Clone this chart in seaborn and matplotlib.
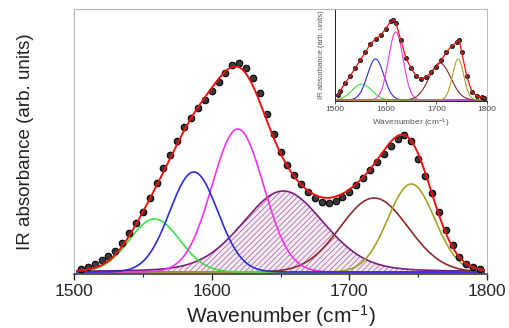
import numpy as np
import pandas as pd
import seaborn as sns
import matplotlib.pyplot as plt
from matplotlib.ticker import MultipleLocator

wn = [1505, 1510, 1515, 1520, 1525, 1530, 1535, 1540, 1545, 1550,
      1555, 1560, 1565, 1570, 1575, 1580, 1585, 1590, 1595, 1600,
      1605, 1610, 1615, 1620, 1625, 1630, 1635, 1640, 1645, 1650,
      1655, 1660, 1665, 1670, 1675, 1680, 1685, 1690, 1695, 1700,
      1705, 1710, 1715, 1720, 1725, 1730, 1735, 1740, 1745, 1750,
      1755, 1760, 1765, 1770, 1775, 1780, 1785, 1790, 1795]
absorb = [3, 5, 8, 12, 16, 21, 29, 39, 49, 60,
          74, 89, 104, 117, 131, 145, 154, 164, 172, 181,
          190, 199, 207, 209, 204, 194, 179, 158, 138, 120,
          107, 97, 88, 80, 74, 70, 69, 71, 75, 80,
          87, 94, 102, 110, 118, 126, 133, 137, 131, 113,
          96, 79, 60, 42, 27, 15, 8, 5, 3]

# fitted bands (main panel): centre, height, fwhm, lorentzian fraction
band_names = ['green', 'blue', 'magenta', 'purple', 'brown', 'olive']
band_center = [1558.5, 1587, 1619, 1652, 1718, 1745]
band_height = [53, 100, 143, 81, 74, 88]
band_fwhm = [43, 41, 44, 70, 58, 40]
band_eta = [0.0, 0.0, 0.0, 0.2, 0.0, 0.0]

# inset spectrum
wn_in = [1505, 1510, 1520, 1530, 1540, 1550, 1560, 1570, 1580, 1590,
         1600, 1610, 1615, 1620, 1630, 1640, 1650, 1660, 1670, 1680,
         1690, 1700, 1710, 1720, 1730, 1740, 1745, 1750, 1760, 1770,
         1780, 1790, 1795]
absorb_in = [5, 9, 17, 24, 32, 40, 48, 56, 61, 65,
             71, 79, 80, 77, 60, 42, 32, 24, 21, 23,
             28, 33, 40, 48, 54, 58, 60, 48, 24, 8,
             4, 3, 2]
inset_names = ['green', 'blue', 'magenta', 'brown', 'olive']
inset_center = [1553, 1580, 1620, 1707, 1743]
inset_height = [16, 41, 68, 37, 41]
inset_fwhm = [45, 38, 34, 50, 26]

colors = {'green': '#3ee03e', 'blue': '#2b2bd8', 'magenta': '#ee33ee',
          'purple': '#7a1f7a', 'brown': '#8a2a2a', 'olive': '#a8a020'}


def band(x, c, h, f, eta=0.0):
    u = 4 * (x - c) ** 2 / f ** 2
    return h * ((1 - eta) * np.exp(-np.log(2) * u) + eta / (1 + u))


sns.set_style('ticks')
plt.rcParams['font.family'] = ['Liberation Sans', 'DejaVu Sans']
plt.rcParams['mathtext.fontset'] = 'custom'
plt.rcParams['mathtext.rm'] = 'Liberation Sans'
plt.rcParams['mathtext.default'] = 'regular'
plt.rcParams['hatch.linewidth'] = 0.6
plt.rcParams['hatch.color'] = '#b56aa8'

fig = plt.figure(figsize=(5.09, 3.28), dpi=100)
ax = fig.add_axes([74 / 509, 1 - 274 / 328, 413 / 509, 265 / 328])

x = np.arange(1502, 1798.5, 0.5)
comps = {}
for n, c, h, f, e in zip(band_names, band_center, band_height, band_fwhm, band_eta):
    comps[n] = band(x, c, h, f, e)

# hatched broad band
ax.fill_between(x, 0, comps['purple'], facecolor='#f6eef6', edgecolor='#b56aa8',
                hatch='//////', linewidth=0)
for n in ['purple', 'brown', 'olive', 'green', 'magenta', 'blue']:
    sns.lineplot(x=x, y=comps[n], color=colors[n], lw=1.2, ax=ax)

df = pd.DataFrame({'wn': wn, 'abs': absorb})
sns.scatterplot(data=df, x='wn', y='abs', s=22, color='#3a3a3a', edgecolor='black',
                linewidth=0.8, ax=ax, zorder=3)
fit = sum(comps.values())
sns.lineplot(x=x, y=fit, color='#ee1111', lw=1.4, ax=ax, zorder=4)

ax.set_xlim(1500, 1800)
ax.set_ylim(-2, 263)
ax.set_yticks([])
ax.xaxis.set_major_locator(MultipleLocator(100))
ax.xaxis.set_minor_locator(MultipleLocator(50))
ax.tick_params(axis='x', which='major', length=4, width=1, labelsize=12.5, pad=3)
ax.tick_params(axis='x', which='minor', length=2.5, width=0.8)
for s in ['top', 'right', 'left']:
    ax.spines[s].set_color('#b8b8b8')
    ax.spines[s].set_linewidth(0.8)
ax.spines['bottom'].set_linewidth(1.1)
ax.set_xlabel('Wavenumber (cm$^{-1}$)', fontsize=15, labelpad=3, color='#222222')
ax.set_ylabel('IR absorbance (arb. units)', fontsize=13.5, labelpad=29, color='#222222')

# inset
axi = fig.add_axes([335 / 509, 1 - 101 / 328, 152 / 509, 92 / 328])
xi = np.arange(1500, 1800.5, 0.5)
for n, c, h, f in zip(inset_names, inset_center, inset_height, inset_fwhm):
    sns.lineplot(x=xi, y=band(xi, c, h, f), color=colors[n], lw=0.8, ax=axi)
sns.scatterplot(x=wn_in, y=absorb_in, s=9, color='#3a3a3a', edgecolor='black',
                linewidth=0.5, ax=axi, zorder=3)
sns.lineplot(x=wn_in, y=absorb_in, color='#ee1111', lw=0.9, ax=axi, zorder=4)
axi.set_xlim(1500, 1800)
axi.set_ylim(-1, 91)
axi.set_yticks([])
axi.xaxis.set_major_locator(MultipleLocator(100))
axi.tick_params(axis='x', length=2, width=0.6, labelsize=6, pad=1.5, colors='#444444')
for s in ['top', 'right']:
    axi.spines[s].set_color('#b8b8b8')
    axi.spines[s].set_linewidth(0.7)
axi.spines['left'].set_linewidth(0.7)
axi.spines['bottom'].set_linewidth(0.7)
axi.set_xlabel('Wavenumber (cm$^{-1}$)', fontsize=6, labelpad=3, color='#555555')
axi.set_ylabel('IR absorbance (arb. units)', fontsize=5.5, labelpad=7, color='#555555')

fig.savefig('out.png', dpi=100)
